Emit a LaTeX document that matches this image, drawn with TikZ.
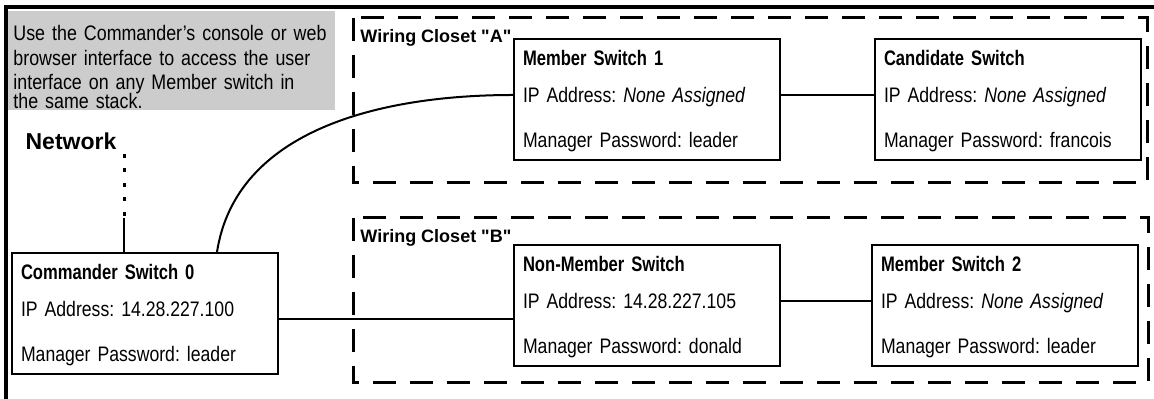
\documentclass[tikz,border=0pt]{standalone}
\usepackage{fontspec}
\setmainfont{Liberation Sans}[FakeStretch=0.84]
\newfontfamily\notefont{Liberation Sans}[FakeStretch=0.85]
\newfontfamily\boldcond{Liberation Sans Bold}[FakeStretch=0.79]
\newfontfamily\boldplain{Liberation Sans Bold}
\usetikzlibrary{positioning, calc}
\frenchspacing

\begin{document}
\begin{tikzpicture}[x=0.5pt, y=-0.5pt,
    every node/.style={font=\fontsize{10.5pt}{12pt}\selectfont},
    switchbox/.style={rectangle, draw, line width=1pt, anchor=north west, align=left, text width=124pt, inner xsep=4.5pt, inner ysep=0pt, text height=13.5pt, text depth=47pt},
    note/.style={rectangle, fill=black!20, anchor=north west, align=left, text width=158.5pt, inner xsep=2.5pt, inner ysep=0pt, text height=14.75pt, text depth=34.5pt, font=\notefont\fontsize{10.5pt}{12.25pt}\selectfont},
    netlabel/.style={inner sep=2pt, font=\boldplain\fontsize{11.5pt}{13pt}\selectfont},
    closet/.style={draw, line width=1.5pt, dash pattern=on 11.5pt off 7pt},
    closetlabel/.style={inner sep=0pt, font=\boldplain\fontsize{9pt}{11pt}\selectfont},
    frame/.style={line width=2pt},
    link/.style={line width=1pt},
    tapline/.style={line width=1.5pt, dash pattern=on 2pt off 5.25pt}]

  \useasboundingbox (0,0) rectangle (1154,399);
  \draw[frame] (6,399) -- (6,7) -- (1154,7);

  % help text
  \node[note] (hint) at (8,11) {Use the Commander’s console or web\\
    browser interface to access the user\\
    interface on any Member switch in\\[-3pt]
    the same stack.};

  % wiring closets
  \coordinate (closetA) at (353,18);
  \coordinate (closetB) at (353,218);
  \draw[closet] (closetA) rectangle (1147,183);
  \draw[closet] (closetB) rectangle (1148,383);
  \node[closetlabel, below right=5.5pt and 3.5pt of closetA] (labelA) {Wiring Closet "A"};
  \node[closetlabel, below right=5.5pt and 3.5pt of closetB] (labelB) {Wiring Closet "B"};

  % switches
  \node[switchbox] (cmd) at (11,252) {{\boldcond Commander Switch 0}\\[6.25pt]
    IP Address: 14.28.227.100\\[10.5pt]
    Manager Password: leader};
  \node[switchbox] (ms1) at (513,38) {{\boldcond Member Switch 1}\\[6.25pt]
    IP Address: \textit{None Assigned}\\[10.5pt]
    Manager Password: leader};
  \node[switchbox, right=46.5pt of ms1] (cand) {{\boldcond Candidate Switch}\\[6.25pt]
    IP Address: \textit{None Assigned}\\[10.5pt]
    Manager Password: francois};
  \node[switchbox, below=41.5pt of ms1] (nm) {{\boldcond Non-Member Switch}\\[6.25pt]
    IP Address: 14.28.227.105\\[10.5pt]
    Manager Password: donald};
  \node[switchbox, right=45pt of nm] (ms2) {{\boldcond Member Switch 2}\\[6.25pt]
    IP Address: \textit{None Assigned}\\[10.5pt]
    Manager Password: leader};

  \node[netlabel] (net) at (71,141) {Network};

  % links
  \coordinate (tap) at ([xshift=-10.5pt]cmd.north);
  \coordinate (split) at ([yshift=17pt]tap);
  \draw[tapline] (net.south east -| tap) -- (split);
  \draw[link] (split) -- (tap);

  \draw[link] ([yshift=-2.75pt]cmd.east) -- ([yshift=-2.75pt]cmd.east -| nm.west);
  \draw[link] ([yshift=2.25pt]ms1.east) -- ([yshift=2.25pt]ms1.east -| cand.west);
  \draw[link] ([yshift=2.25pt]nm.east) -- ([yshift=2.25pt]nm.east -| ms2.west);
  \draw[link] ([xshift=36pt]cmd.north) .. controls +(19,-122) and +(-133,0) .. ([yshift=2.25pt]ms1.west);
\end{tikzpicture}
\end{document}
